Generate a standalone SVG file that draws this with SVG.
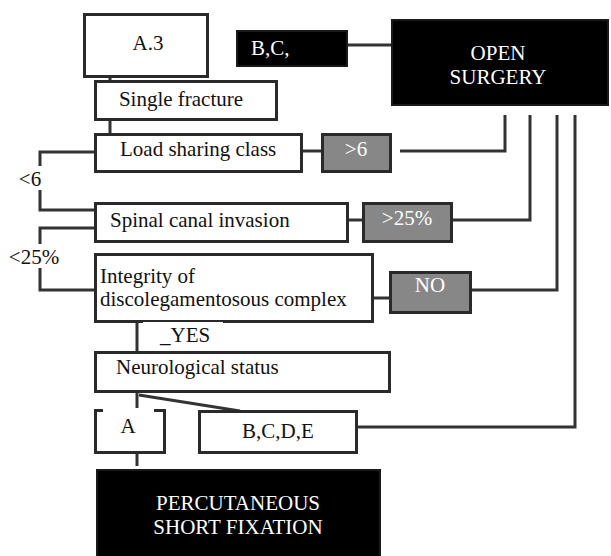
<svg xmlns="http://www.w3.org/2000/svg" width="611" height="556" viewBox="0 0 611 556">
  <style>
    .box { fill: #fff; stroke: #2a2a2a; stroke-width: 3; }
    .dark { fill: #000; stroke: #1a1a1a; stroke-width: 2; }
    .grey { fill: #878787; stroke: #2a2a2a; stroke-width: 3; }
    .wire { fill: none; stroke: #333; stroke-width: 3; }
    text { font-family: 'Liberation Serif', 'DejaVu Serif', serif; font-size: 21px; fill: #111; }
    .lt { fill: #fff; }
    .mid { text-anchor: middle; }
  </style>

  <g id="connectors">
    <path class="wire" d="M110 77 V81 M110 120 V134"/>
    <path class="wire" d="M347 45 H392"/>
    <path class="wire" d="M302 151 H322"/>
    <path class="wire" d="M400 151 H505 V115"/>
    <path class="wire" d="M348 220 H363"/>
    <path class="wire" d="M452 220 H530 V115"/>
    <path class="wire" d="M373 298 H390"/>
    <path class="wire" d="M471 290 H557 V115"/>
    <path class="wire" d="M357 427 H575 V115"/>
    <path class="wire" d="M94 152 H40 V210 H94"/>
    <path class="wire" d="M94 228 H40 V290 H94"/>
    <path class="wire" d="M137 322 V352"/>
    <path class="wire" d="M137 392 V410"/>
    <path class="wire" d="M139 395 L240 411"/>
    <path class="wire" d="M137 453 V466"/>
  </g>

  <g id="label-lt6">
    <rect x="16" y="166" width="30" height="24" fill="#fff"/>
    <text x="30" y="186" class="mid">&lt;6</text>
  </g>
  <g id="label-lt25">
    <rect x="6" y="244" width="56" height="24" fill="#fff"/>
    <text x="34" y="264" class="mid">&lt;25%</text>
  </g>

  <g id="node-a3">
    <rect class="box" x="84.5" y="14.5" width="123" height="62"/>
    <text x="148" y="50" class="mid">A.3</text>
  </g>
  <g id="node-bc">
    <rect class="dark" x="237" y="31" width="110" height="35"/>
    <text x="251" y="55" class="lt">B,C,</text>
  </g>
  <g id="node-open-surgery">
    <rect class="dark" x="392" y="20" width="216" height="85"/>
    <text x="498" y="60" class="mid lt">OPEN</text>
    <text x="498" y="84" class="mid lt">SURGERY</text>
  </g>
  <g id="node-single-fracture">
    <rect class="box" x="95.5" y="81.5" width="181" height="38"/>
    <text x="181" y="106" class="mid">Single fracture</text>
  </g>
  <g id="node-load-sharing">
    <rect class="box" x="95.5" y="134.5" width="206" height="37"/>
    <text x="120" y="156">Load sharing class</text>
  </g>
  <g id="node-gt6">
    <rect class="grey" x="322.5" y="134.5" width="68" height="37"/>
    <text x="356" y="156" class="mid lt">&gt;6</text>
  </g>
  <g id="node-spinal-canal">
    <rect class="box" x="95.5" y="203.5" width="252" height="38"/>
    <text x="110" y="227">Spinal canal invasion</text>
  </g>
  <g id="node-gt25">
    <rect class="grey" x="363.5" y="203.5" width="88" height="38"/>
    <text x="407" y="225" class="mid lt">&gt;25%</text>
  </g>
  <g id="node-integrity">
    <rect class="box" x="95.5" y="254.5" width="277" height="67"/>
    <text x="100" y="283">Integrity of</text>
    <text x="100" y="306">discolegamentosous complex</text>
  </g>
  <g id="node-no">
    <rect class="grey" x="390.5" y="272.5" width="80" height="40"/>
    <text x="430" y="292" class="mid lt">NO</text>
  </g>
  <g id="label-yes">
    <rect x="143" y="322" width="80" height="24" fill="#fff"/>
    <text x="160" y="342">_YES</text>
  </g>
  <g id="node-neuro">
    <rect class="box" x="95.5" y="352.5" width="294" height="39"/>
    <text x="116" y="374">Neurological status</text>
  </g>
  <g id="node-a">
    <rect class="box" x="95.5" y="410.5" width="69" height="42"/>
    <rect x="103" y="408" width="51" height="18" fill="#fff"/>
    <text x="128" y="433" class="mid">A</text>
  </g>
  <g id="node-bcde">
    <rect class="box" x="199.5" y="411.5" width="157" height="41"/>
    <text x="278" y="438" class="mid">B,C,D,E</text>
  </g>
  <g id="node-percutaneous">
    <rect class="dark" x="97" y="470" width="283" height="90"/>
    <text x="238" y="510" class="mid lt">PERCUTANEOUS</text>
    <text x="238" y="534" class="mid lt">SHORT FIXATION</text>
  </g>
</svg>
